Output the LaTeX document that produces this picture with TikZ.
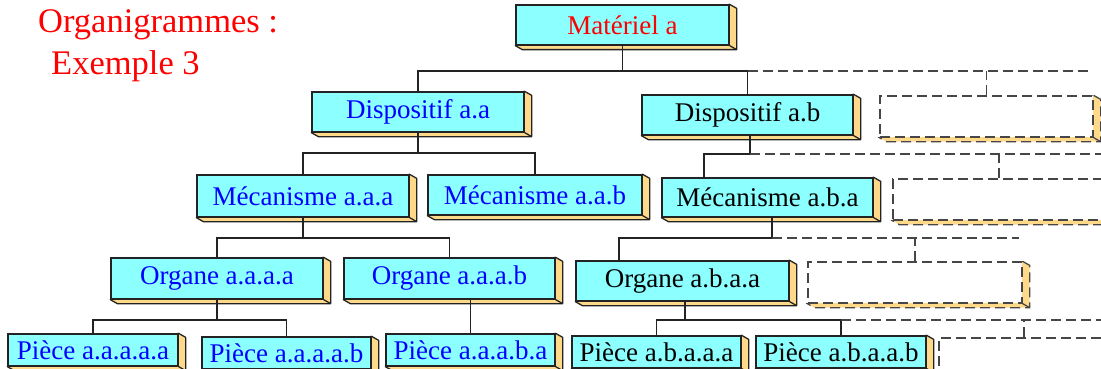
\documentclass[tikz,border=0pt]{standalone}
\usepackage{fontspec}
\setmainfont{Liberation Serif}
\usetikzlibrary{calc,backgrounds}
\definecolor{boxfill}{RGB}{140,255,255}
\definecolor{sidefill}{RGB}{255,217,138}
\definecolor{edgec}{RGB}{35,35,35}
\definecolor{dlinec}{RGB}{70,70,70}
\definecolor{tred}{RGB}{255,0,0}
\definecolor{tblue}{RGB}{0,0,255}
\tikzset{
  orgbox/.style={draw=edgec, line width=1.3pt, fill=boxfill, inner sep=0pt,
    font=\fontsize{27}{30}\selectfont},
  ghostbox/.style={draw=dlinec, line width=1.3pt, fill=white, inner sep=0pt,
    dash pattern=on 10pt off 5pt},
  sideface/.style={draw=edgec, line width=1.3pt, fill=sidefill, line join=round},
  ghostface/.style={draw=dlinec, line width=1.3pt, fill=sidefill, dash pattern=on 10pt off 5pt},
  conn/.style={draw=edgec, line width=1.3pt},
  dconn/.style={draw=dlinec, line width=1.3pt, dash pattern=on 10pt off 5pt},
  titletext/.style={text=tred, inner sep=0pt, font=\fontsize{34.5}{38}\selectfont}
}
\begin{document}
\begin{tikzpicture}[x=1pt,y=-1pt]
\useasboundingbox (0,0) rectangle (1101,369);

% title
\node[titletext, anchor=base west] (t1) at (38,33) {Organigrammes :};
\node[titletext, anchor=base west] (t2) at (51,75) {Exemple 3};

% level 1
\node[orgbox, minimum width=213pt, minimum height=40pt, text=tred] (m) at (622.5,25) {Matériel a};
% level 2
\node[orgbox, minimum width=212pt, minimum height=40pt, text=tblue] (da) at (418,112) {Dispositif a.a};
\node[orgbox, minimum width=211pt, minimum height=40pt, text=black] (db) at (747.5,115) {Dispositif a.b};
\node[ghostbox, minimum width=213pt, minimum height=41pt] (dc) at (986.5,116.5) {};
% level 3
\node[orgbox, minimum width=212pt, minimum height=42pt, text=tblue] (ma) at (303,196) {Mécanisme a.a.a};
\node[orgbox, minimum width=214pt, minimum height=40pt, text=tblue] (mb) at (535,195) {Mécanisme a.a.b};
\node[orgbox, minimum width=211pt, minimum height=39pt, text=black] (mc) at (767.5,197.5) {Mécanisme a.b.a};
\node[ghostbox, minimum width=212pt, minimum height=41pt] (md) at (999,199.5) {};
% level 4
\node[orgbox, minimum width=212pt, minimum height=41pt, text=tblue] (oa) at (217,278.5) {Organe a.a.a.a};
\node[orgbox, minimum width=211pt, minimum height=41pt, text=tblue] (ob) at (449.5,278.5) {Organe a.a.a.b};
\node[orgbox, minimum width=213pt, minimum height=40pt, text=black] (oc) at (682.5,281) {Organe a.b.a.a};
\node[ghostbox, minimum width=214pt, minimum height=41pt] (od) at (915,282.5) {};
% level 5
\node[orgbox, minimum width=170pt, minimum height=32pt, text=tblue] (pa) at (93,350) {Pièce a.a.a.a.a};
\node[orgbox, minimum width=169pt, minimum height=32pt, text=tblue] (pb) at (286.5,353) {Pièce a.a.a.a.b};
\node[orgbox, minimum width=169pt, minimum height=32pt, text=tblue] (pc) at (470.5,350) {Pièce a.a.a.b.a};
\node[orgbox, minimum width=169pt, minimum height=32pt, text=black] (pd) at (656.5,352) {Pièce a.b.a.a.a};
\node[orgbox, minimum width=170pt, minimum height=32pt, text=black] (pe) at (841,352) {Pièce a.b.a.a.b};
\node[ghostbox, minimum width=170pt, minimum height=32pt] (pf) at (1024,354) {};

% 3D side faces
\begin{scope}[on background layer]
  \foreach \bn in {m,da,db,ma,mb,mc,oa,ob,oc,pa,pb,pc,pd,pe} {
    \path[sideface] (\bn.north east) -- ++(7,4) |- ($(\bn.south west)+(7,4)$) -- (\bn.south west) -- cycle;
    \draw[conn] (\bn.south east) -- ++(7,4);
  }
  \foreach \bn in {dc,md,od,pf} {
    \path[ghostface] (\bn.north east) -- ++(7,4) |- ($(\bn.south west)+(7,4)$) -- (\bn.south west) -- cycle;
    \draw[dconn] (\bn.south east) -- ++(7,4);
  }
\end{scope}

% bus levels
\coordinate (y1) at (0,71);
\coordinate (y2l) at (0,153);
\coordinate (y2r) at (0,154);
\coordinate (y3) at (0,238);
\coordinate (y4) at (0,320);

% connectors level 1 -> 2
\draw[conn] (m.south) -- (m.south |- y1);
\draw[conn] (da.north) |- (db.north |- y1) -- (db.north);
\coordinate (e1) at (1092,71);
\draw[dconn] (db.north |- y1) -- (e1);
\draw[dconn] (dc.north) -- (dc.north |- y1);

% level 2 -> 3
\draw[conn] (da.south) -- (da.south |- y2l);
\draw[conn] (ma.north) |- (mb.north |- y2l) -- (mb.north);
\coordinate (dbout) at ([xshift=2.5pt]db.south);
\coordinate (mcin) at ([xshift=-63.5pt]mc.north);
\draw[conn] (dbout) |- (mcin |- y2r) -- (mcin);
\coordinate (e2) at (1115,154);
\draw[dconn] (dbout |- y2r) -- (e2);
\draw[dconn] (md.north) -- (md.north |- y2r);

% level 3 -> 4
\draw[conn] (ma.south) -- (ma.south |- y3);
\draw[conn] (oa.north) |- (ob.north |- y3) -- (ob.north);
\coordinate (mcout) at ([xshift=4.5pt]mc.south);
\coordinate (ocin) at ([xshift=-63.5pt]oc.north);
\draw[conn] (mcout) |- (ocin |- y3) -- (ocin);
\coordinate (e3) at (1019,238);
\draw[dconn] (mcout |- y3) -- (e3);
\draw[dconn] (od.north) -- (od.north |- y3);

% level 4 -> 5
\draw[conn] (oa.south) -- (oa.south |- y4);
\draw[conn] (pa.north) |- (pb.north |- y4) -- (pb.north);
\draw[conn] (pc.north) -- (pc.north |- ob.south);
\coordinate (ocout) at ([xshift=2.5pt]oc.south);
\draw[conn] (ocout) -- (ocout |- y4);
\draw[conn] (pd.north) |- (pe.north |- y4) -- (pe.north);
\coordinate (e4) at (1115,320);
\draw[dconn] (pe.north |- y4) -- (e4);
\draw[dconn] (pf.north) -- (pf.north |- y4);
\end{tikzpicture}
\end{document}
